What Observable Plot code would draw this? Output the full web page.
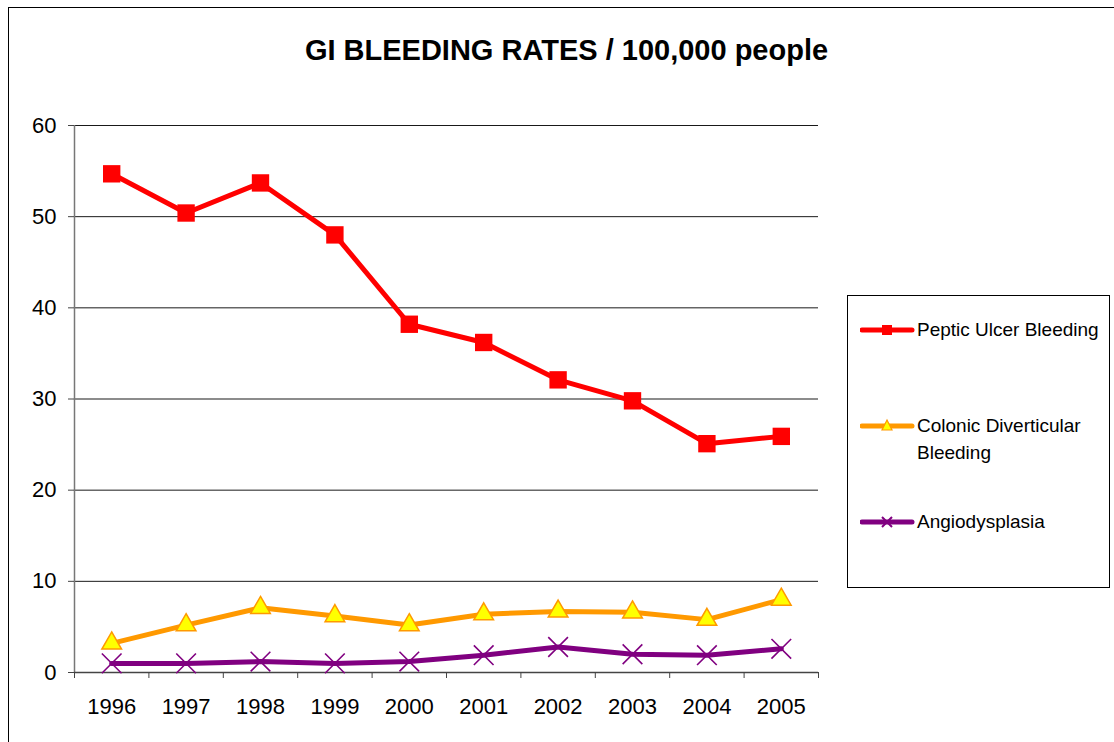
<!DOCTYPE html>
<html>
<head>
<meta charset="utf-8">
<script src="https://cdn.jsdelivr.net/npm/d3@7"></script>
<script src="https://cdn.jsdelivr.net/npm/@observablehq/plot@0.6"></script>
<style>
  html, body { margin: 0; padding: 0; background: #fff; overflow: hidden; }
  #wrap { position: relative; width: 1114px; height: 742px; overflow: hidden; font-family: "Liberation Sans", Arial, sans-serif; }
  #frame { position: absolute; left: 8px; top: 7px; width: 1130px; height: 800px; border: 1px solid #000; box-sizing: border-box; }
  #chart { position: absolute; left: 0; top: 0; }
  #legend { position: absolute; left: 847px; top: 295px; width: 263px; height: 293px; border: 1px solid #000; box-sizing: border-box; background: #fff; }
  .item { position: absolute; left: 12px; font-size: 19px; line-height: 27px; color: #000; }
  .item svg { position: absolute; left: 0; top: 0; }
  .item span { position: absolute; left: 57px; top: 0; white-space: nowrap; }
</style>
</head>
<body>
<div id="wrap">
  <div id="frame"></div>
  <div id="chart"></div>
  <div id="legend"></div>
</div>
<script>
const title = "GI BLEEDING RATES / 100,000 people";
const years = [1996, 1997, 1998, 1999, 2000, 2001, 2002, 2003, 2004, 2005];
const peptic = [54.7, 50.4, 53.7, 48.0, 38.2, 36.2, 32.1, 29.8, 25.1, 25.9];
const colonic = [3.2, 5.2, 7.1, 6.2, 5.2, 6.4, 6.7, 6.6, 5.8, 8.0];
const angio = [1.0, 1.0, 1.2, 1.0, 1.2, 1.9, 2.8, 2.0, 1.9, 2.6];
const yTicks = [0, 10, 20, 30, 40, 50, 60];
const seriesNames = ["Peptic Ulcer Bleeding", "Colonic Diverticular\nBleeding", "Angiodysplasia"];

const rows = (vals, name) => years.map((y, i) => ({year: y, value: vals[i], series: name}));
const pData = rows(peptic, seriesNames[0]);
const cData = rows(colonic, seriesNames[1]);
const aData = rows(angio, seriesNames[2]);
const edges = d3.range(years[0] - 0.5, years[years.length - 1] + 1, 1);

const chart = Plot.plot({
  width: 1114,
  height: 742,
  marginLeft: 74,
  marginRight: 296,
  marginTop: 125,
  marginBottom: 70,
  style: {background: "transparent", fontFamily: "'Liberation Sans', Arial, sans-serif", color: "#000"},
  x: {type: "linear", domain: [years[0] - 0.5, years[years.length - 1] + 0.5]},
  y: {domain: [0, 60]},
  marks: [
    Plot.gridY(yTicks.filter(d => d > 0), {stroke: "#000", strokeOpacity: 0.9, strokeWidth: 1}),
    Plot.ruleX([years[0] - 0.5], {stroke: "#777", strokeWidth: 1.5}),
    Plot.ruleY([0], {stroke: "#444", strokeWidth: 1.5}),
    Plot.axisY({ticks: yTicks, tickSize: 6, tickPadding: 12, fontSize: 22, tickFormat: d => String(d), label: null, stroke: "#444"}),
    Plot.axisX({ticks: edges, tickSize: 6, tickFormat: () => "", label: null, stroke: "#444"}),
    Plot.axisX({ticks: years, tickSize: 0, tickPadding: 26, fontSize: 22, tickFormat: d => String(d), label: null}),
    Plot.line(aData, {x: "year", y: "value", stroke: "#800080", strokeWidth: 5}),
    Plot.dot(aData, {x: "year", y: "value", symbol: "times", r: 9, stroke: "#800080", strokeWidth: 1.6}),
    Plot.line(cData, {x: "year", y: "value", stroke: "#FF9900", strokeWidth: 5}),
    Plot.dot(cData, {x: "year", y: "value", symbol: "triangle", r: 7.3, fill: "#FFFF00", stroke: "#FF9900", strokeWidth: 1.5}),
    Plot.line(pData, {x: "year", y: "value", stroke: "#FF0000", strokeWidth: 5}),
    Plot.dot(pData, {x: "year", y: "value", symbol: "square", r: 9.8, fill: "#FF0000", stroke: "none"}),
    Plot.text([title], {frameAnchor: "top", dx: 120, dy: -86, fontSize: 29, fontWeight: "bold", fill: "#000"})
  ]
});
document.getElementById("chart").appendChild(chart);

// Legend
const legend = document.getElementById("legend");
const legendItems = [
  {name: seriesNames[0], color: "#FF0000", marker: "square", top: 20},
  {name: seriesNames[1], color: "#FF9900", marker: "triangle", top: 116},
  {name: seriesNames[2], color: "#800080", marker: "times", top: 212}
];
legendItems.forEach(it => {
  const div = document.createElement("div");
  div.className = "item";
  div.style.top = it.top + "px";
  let mk = "";
  if (it.marker === "square") mk = `<rect x="22" y="9" width="10" height="10" fill="${it.color}"/>`;
  if (it.marker === "triangle") mk = `<path d="M27,8 L32,18 L22,18 Z" fill="#FFFF00" stroke="${it.color}" stroke-width="1.2"/>`;
  if (it.marker === "times") mk = `<path d="M22,9 L32,19 M32,9 L22,19" stroke="${it.color}" stroke-width="2"/>`;
  div.innerHTML = `<svg width="56" height="28"><line x1="2" y1="14" x2="52" y2="14" stroke="${it.color}" stroke-width="5" stroke-linecap="round"/>${mk}</svg><span>${it.name.replace("\n", "<br>")}</span>`;
  legend.appendChild(div);
});
</script>
</body>
</html>
